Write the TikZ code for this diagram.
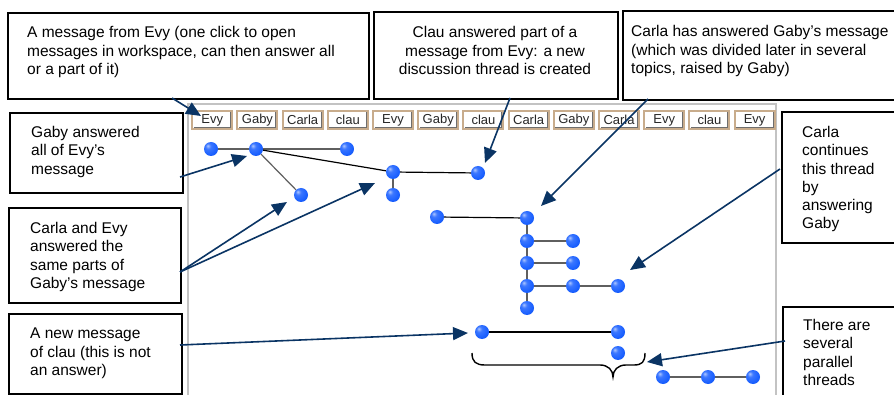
\documentclass[tikz,border=0pt]{standalone}
\usepackage{fontspec}
\setmainfont{Liberation Sans}
\usetikzlibrary{arrows.meta,backgrounds,calc}
\definecolor{arrowc}{RGB}{10,52,100}
\definecolor{btnc}{RGB}{200,172,140}
\definecolor{btnshadow}{RGB}{110,110,110}
\definecolor{panelc}{RGB}{195,195,195}
\definecolor{dotc}{RGB}{25,95,255}
\definecolor{edgec}{RGB}{95,95,95}
\pgfdeclareradialshading{mydot}{\pgfpoint{-12bp}{12bp}}{color(0bp)=(dotc!35!white); color(10bp)=(dotc!85!white); color(28bp)=(dotc); color(50bp)=(dotc!78!black); color(70bp)=(dotc!65!black)}
\begin{document}
\begin{tikzpicture}[x=1pt,y=-1pt,
  note/.style={draw=black, line width=1.6pt, fill=white, anchor=north west, inner sep=0pt},
  notetext/.style={inner sep=0pt, font=\fontsize{15.5}{18.3}\selectfont, align=left},
  btn/.style={draw=btnc, line width=2pt, fill=white, minimum width=40pt, minimum height=18pt, inner sep=0pt, font=\fontsize{13}{14}\selectfont, text=black!85},
  btnedge/.style={btnshadow, line width=1pt},
  dot/.style={circle, minimum size=14pt, inner sep=0pt, shading=mydot},
  link/.style={edgec, line width=1.2pt},
  callout/.style={arrowc, line width=1.6pt, -{Triangle[length=15pt,width=13pt]}},
]
\useasboundingbox (0,0) rectangle (894,395);
\clip (0,0) rectangle (894,395);

% workspace panel
\draw[panelc, line width=2pt] (188,400) -- (188,104) -- (776,104) -- (776,400);

% buttons
\foreach \lab [count=\i from 0] in {Evy,Gaby,Carla,clau,Evy,Gaby,clau,Carla,Gaby,Carla,Evy,clau,Evy}{
  \node[btn] (b\i) at ({212.25+45.2*\i},120) {\lab};
  \draw[btnedge] ($(b\i.south west)+(2.5,-2.5)$) -- ($(b\i.south east)+(-2.5,-2.5)$) -- ($(b\i.north east)+(-2.5,2.5)$);
}

% message dots
\node[dot] (A) at (211,149) {};
\node[dot] (B) at (256,149) {};
\node[dot] (C) at (347,149) {};
\node[dot] (D) at (393,172) {};
\node[dot] (E) at (301,195) {};
\node[dot] (F) at (393,195) {};
\node[dot] (G) at (478,173) {};
\node[dot] (H) at (437,217) {};
\node[dot] (I) at (527,218) {};
\node[dot] (J) at (527,241) {};
\node[dot] (K) at (573,241) {};
\node[dot] (L) at (527,263) {};
\node[dot] (M) at (573,263) {};
\node[dot] (N) at (527,286) {};
\node[dot] (O) at (573,286) {};
\node[dot] (P) at (618,286) {};
\node[dot] (Q) at (527,308) {};
\node[dot] (R) at (482,332) {};
\node[dot] (S) at (618,332) {};
\node[dot] (T) at (618,353) {};
\node[dot] (U) at (663,377) {};
\node[dot] (V) at (708,377) {};
\node[dot] (W) at (753,377) {};

% links (behind the dots)
\begin{scope}[on background layer]
\fill[white] (0,0) rectangle (894,395);
\draw[link] (A) -- (B);
\draw[link] (B) -- (C);
\draw[link, black] (B) -- (D);
\draw[link] (B) -- (E);
\draw[link, black] (D) -- (G);
\draw[link] (D) -- (F);
\draw[link, black] (H) -- (I);
\draw[link] (I) -- (J);
\draw[link] (J) -- (L);
\draw[link] (L) -- (N);
\draw[link] (N) -- (Q);
\draw[link] (J) -- (K);
\draw[link] (L) -- (M);
\draw[link] (N) -- (O);
\draw[link] (O) -- (P);
\draw[link, black] (R) -- (S);
\draw[link] (U) -- (V);
\draw[link] (V) -- (W);
\end{scope}

% brace
\draw[black, line width=1.4pt] (472,353) .. controls (472,362) and (476,365) .. (485,365) -- (600,365)
  .. controls (608,365) and (613,370) .. (613,377)
  .. controls (613,370) and (618,365) .. (626,365) -- (634,365)
  .. controls (642,365) and (645,362) .. (645,353);

% note boxes
\node[note, minimum width=361pt, minimum height=86pt] (box1) at (7,12) {};
\node[note, minimum width=244pt, minimum height=87pt] (box2) at (373,11) {};
\node[note, minimum width=283pt, minimum height=89pt] (box3) at (622,10) {};
\node[note, minimum width=173pt, minimum height=80pt] (box4) at (9,112) {};
\node[note, minimum width=172pt, minimum height=95pt] (box5) at (8,207) {};
\node[note, minimum width=173pt, minimum height=80pt] (box6) at (8,313) {};
\node[note, minimum width=124pt, minimum height=131pt] (box7) at (781,111) {};
\node[note, minimum width=123pt, minimum height=99pt] (box8) at (782,306) {};

\node[notetext, anchor=north west] (t1) at (27,26.5) {A message from Evy (one click to open\\messages in workspace, can then answer all\\or a part of it)};
\node[notetext, anchor=north, align=center] (t2) at (495,26.5) {Clau answered part of a\\message from Evy: a new\\discussion thread is created};
\node[notetext, anchor=north west] (t3) at (631,25.5) {Carla has answered Gaby’s message\\(which was divided later in several\\topics, raised by Gaby)};
\node[notetext, anchor=north west] (t4) at (31,126) {Gaby answered\\all of Evy’s\\message};
\node[notetext, anchor=north west] (t5) at (30,222) {Carla and Evy\\answered the\\same parts of\\Gaby’s message};
\node[notetext, anchor=north west] (t6) at (30,328) {A new message\\of clau (this is not\\an answer)};
\node[notetext, anchor=north west] (t7) at (802,126) {Carla\\continues\\this thread\\by\\answering\\Gaby};
\node[notetext, anchor=north west] (t8) at (803,319) {There are\\several\\parallel\\threads};

% callout arrows
\coordinate (s1) at (172,98);   \coordinate (e1) at (201,116);
\coordinate (s2) at (510,98);   \coordinate (e2) at (485,163);
\coordinate (s3) at (648,99);   \coordinate (e3) at (541,206);
\coordinate (s4) at (180,177);  \coordinate (e4) at (247,156);
\coordinate (s5) at (180,272);  \coordinate (e5a) at (287,202); \coordinate (e5b) at (375,183);
\coordinate (s6) at (780,169);  \coordinate (e6) at (630,270);
\coordinate (s7) at (180,345);  \coordinate (e7) at (468,333);
\coordinate (s8) at (785,341);  \coordinate (e8) at (647,362);
\draw[callout] (s1) -- (e1);
\draw[callout] (s2) -- (e2);
\draw[callout] (s3) -- (e3);
\draw[callout] (s4) -- (e4);
\draw[callout] (s5) -- (e5a);
\draw[callout] (s5) -- (e5b);
\draw[callout] (s6) -- (e6);
\draw[callout] (s7) -- (e7);
\draw[callout] (s8) -- (e8);
\end{tikzpicture}
\end{document}
